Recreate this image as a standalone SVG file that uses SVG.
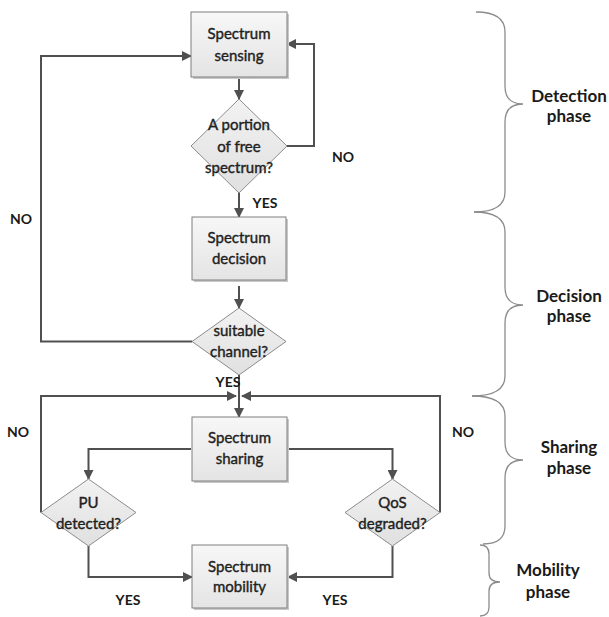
<svg xmlns="http://www.w3.org/2000/svg" width="609" height="617" viewBox="0 0 609 617">
<style>
.box{fill:url(#gBox);stroke:#7f7f7f;stroke-width:1}
.shadow{fill:#c8c8c8}
.dia{fill:url(#gDia);stroke:#8c8c8c;stroke-width:1}
.t{font-family:Lato,"Liberation Sans",sans-serif;font-size:15px;fill:#1f1f1f;stroke:#1f1f1f;stroke-width:0.4;text-anchor:middle}
.lbl{font-family:Lato,"Liberation Sans",sans-serif;font-size:14px;font-weight:bold;fill:#1a1a1a;text-anchor:middle}
.ph{font-family:Lato,"Liberation Sans",sans-serif;font-size:17px;font-weight:bold;fill:#1a1a1a;text-anchor:middle}
.c{fill:none;stroke:#505050;stroke-width:2;marker-end:url(#arr)}
.br{fill:none;stroke:#8c8c8c;stroke-width:1.3}
</style>
<defs>
<linearGradient id="gBox" x1="0" y1="0" x2="0" y2="1">
<stop offset="0" stop-color="#f7f7f7"/><stop offset="1" stop-color="#e4e4e4"/>
</linearGradient>
<linearGradient id="gDia" x1="0" y1="0" x2="0" y2="1">
<stop offset="0" stop-color="#f2f2f2"/><stop offset="1" stop-color="#e0e0e0"/>
</linearGradient>
<marker id="arr" markerUnits="userSpaceOnUse" markerWidth="10" markerHeight="10" refX="9" refY="5" orient="auto">
<path d="M0,0 L10,5 L0,10 Z" fill="#505050"/>
</marker>
</defs>
<rect width="609" height="617" fill="#ffffff"/>

<g id="connectors">
<path class="c" d="M239,77 L239,99"/>
<path class="c" d="M239,193 L239,217"/>
<path class="c" d="M287,146 H314 V44 H287"/>
<path class="c" d="M239,286 L239,308"/>
<path class="c" d="M192,341.5 H41 V56 H191"/>
<path class="c" d="M239,375 L239,417"/>
<path class="c" d="M191,449 H88.5 V479"/>
<path class="c" d="M287,449 H392.5 V479"/>
<path class="c" d="M41,512.5 V396 H236"/>
<path class="c" d="M440,512.5 V396 H242"/>
<path class="c" d="M88.5,546 V577 H192"/>
<path class="c" d="M392.5,546 V577 H288"/>
</g>

<g id="spectrum-sensing">
<rect class="shadow" x="193" y="14" width="96" height="65"/>
<rect class="box" x="191" y="12" width="96" height="65"/>
<text class="t" x="239" y="38.5">Spectrum</text>
<text class="t" x="239" y="60.5">sensing</text>
</g>

<g id="free-spectrum">
<polygon class="dia" points="239,99 287,146 239,193 191,146"/>
<text class="t" x="239" y="130">A portion</text>
<text class="t" x="239" y="152">of free</text>
<text class="t" x="239" y="173">spectrum?</text>
</g>

<g id="spectrum-decision">
<rect class="shadow" x="194" y="219" width="94" height="63"/>
<rect class="box" x="192" y="217" width="94" height="63"/>
<text class="t" x="239" y="243">Spectrum</text>
<text class="t" x="239" y="264">decision</text>
</g>

<g id="suitable-channel">
<polygon class="dia" points="239,308 286,341.5 239,375 192,341.5"/>
<text class="t" x="239" y="336">suitable</text>
<text class="t" x="239" y="357">channel?</text>
</g>

<g id="spectrum-sharing">
<rect class="shadow" x="194" y="419" width="95" height="64"/>
<rect class="box" x="192" y="417" width="95" height="64"/>
<text class="t" x="239.5" y="443">Spectrum</text>
<text class="t" x="239.5" y="464">sharing</text>
</g>

<g id="pu-detected">
<polygon class="dia" points="88.5,479 136,512.5 88.5,546 41,512.5"/>
<text class="t" x="88.5" y="508">PU</text>
<text class="t" x="88.5" y="529">detected?</text>
</g>

<g id="qos-degraded">
<polygon class="dia" points="392.5,479 440,512.5 392.5,546 345,512.5"/>
<text class="t" x="392.5" y="508">QoS</text>
<text class="t" x="392.5" y="529">degraded?</text>
</g>

<g id="spectrum-mobility">
<rect class="shadow" x="194" y="547" width="95" height="63"/>
<rect class="box" x="192" y="545" width="95" height="63"/>
<text class="t" x="239.5" y="572">Spectrum</text>
<text class="t" x="239.5" y="592">mobility</text>
</g>

<g id="labels">
<text class="lbl" x="265" y="208">YES</text>
<text class="lbl" x="343" y="162">NO</text>
<text class="lbl" x="21" y="224">NO</text>
<text class="lbl" x="228" y="387">YES</text>
<text class="lbl" x="18" y="437">NO</text>
<text class="lbl" x="463" y="437">NO</text>
<text class="lbl" x="128" y="605">YES</text>
<text class="lbl" x="335" y="605">YES</text>
</g>

<g id="phases">
<path class="br" d="M476,12 Q505,12 505,32 L505,86 Q505,104 523,104 Q505,104 505,122 L505,192 Q505,212 474,212"/>
<path class="br" d="M474,212 Q505,212 505,232 L505,287 Q505,305 523,305 Q505,305 505,323 L505,376 Q505,396 472,396"/>
<path class="br" d="M472,396 Q505,396 505,416 L505,442 Q505,460 523,460 Q505,460 505,478 L505,526 Q505,544 483,544"/>
<path class="br" d="M480,545 Q489,545 489,554 L489,573 Q489,582 500,582 Q489,582 489,591 L489,607 Q489,616 480,616"/>
<text class="ph" x="569" y="102">Detection</text>
<text class="ph" x="569" y="122">phase</text>
<text class="ph" x="569" y="302">Decision</text>
<text class="ph" x="569" y="322">phase</text>
<text class="ph" x="569" y="453">Sharing</text>
<text class="ph" x="569" y="474">phase</text>
<text class="ph" x="548" y="576">Mobility</text>
<text class="ph" x="548" y="598">phase</text>
</g>
</svg>
